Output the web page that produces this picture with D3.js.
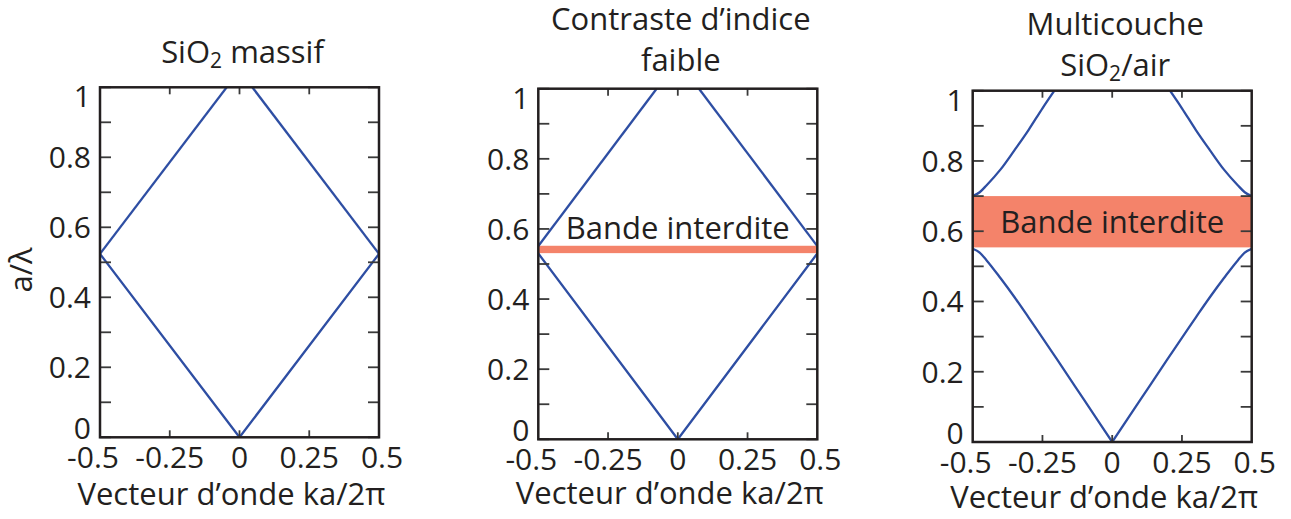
<!DOCTYPE html>
<html>
<head>
<meta charset="utf-8">
<script src="https://cdn.jsdelivr.net/npm/d3@7"></script>
<style>
  body { margin: 0; background: #fff; }
  svg text { font-family: "Open Sans", "Noto Sans", sans-serif; fill: #231f20; }
</style>
</head>
<body>
<div id="chart"></div>
<script>
// Tick values shared by the three panels
var yTicksMajor = [0, 0.2, 0.4, 0.6, 0.8, 1];
var yTicksMinor = [0.1, 0.3, 0.5, 0.7, 0.9];
var xTicks = [-0.5, -0.25, 0, 0.25, 0.5];
var yTickLabels = ["0", "0.2", "0.4", "0.6", "0.8", "1"];
var xTickLabels = ["-0.5", "-0.25", "0", "0.25", "0.5"];

// Panel 1 : SiO2 massif (folded light line)
var bulkLower = [[-0.5, 0.524], [0, 0], [0.5, 0.524]];
var bulkUpperLeft = [[-0.5, 0.524], [-0.046, 1]];
var bulkUpperRight = [[0.046, 1], [0.5, 0.524]];

// Panel 2 : contraste d'indice faible
var lowLower = [[-0.5, 0.53], [0, 0], [0.5, 0.53]];
var lowUpperLeft = [[-0.5, 0.551], [-0.076, 1]];
var lowUpperRight = [[0.076, 1], [0.5, 0.551]];
var lowGap = [0.531, 0.552];

// Panel 3 : multicouche SiO2/air (read at |k|, symmetric)
var multiK = [0, 0.1, 0.2, 0.3, 0.35, 0.4, 0.45, 0.475, 0.5];
var multiLower = [0, 0.119, 0.238, 0.355, 0.412, 0.466, 0.517, 0.539, 0.55];
var multiUpperK = [0.19, 0.25, 0.3, 0.35, 0.4, 0.45, 0.475, 0.5];
var multiUpper = [1.02, 0.95, 0.888, 0.831, 0.776, 0.731, 0.711, 0.70];
var multiGap = [0.554, 0.70];

var titles = [["SiO|2| massif"], ["Contraste d\u2019indice", "faible"], ["Multicouche", "SiO|2|/air"]];
var xTitle = "Vecteur d\u2019onde ka/2\u03c0";
var yTitle = "a/\u03bb";
var gapLabel = "Bande interdite";

var blue = "#2e4ea3", orange = "#f4836a", frameCol = "#231f20";

var svg = d3.select("#chart").append("svg")
    .attr("width", 1291)
    .attr("height", 519);

// frame boxes of the panels
var panels = [
  {x0: 100, x1: 379, y0: 87.3, y1: 437.3, titleY: [63.3], xTitleY: 505},
  {x0: 538.3, x1: 817.3, y0: 88.7, y1: 439.3, titleY: [30, 71], xTitleY: 504},
  {x0: 972.7, x1: 1251.7, y0: 90.7, y1: 442, titleY: [35, 76], xTitleY: 508}
];

function mirror(ks, vs, sign) {
  return ks.map(function(k, i) { return [sign * k, vs[i]]; })
    .sort(function(a, b) { return a[0] - b[0]; });
}

panels.forEach(function(p, pi) {
  var x = d3.scaleLinear().domain([-0.5, 0.5]).range([p.x0, p.x1]);
  var y = d3.scaleLinear().domain([0, 1]).range([p.y1, p.y0]);
  var g = svg.append("g");

  g.append("clipPath").attr("id", "clip" + pi)
    .append("rect")
    .attr("x", p.x0).attr("y", p.y0)
    .attr("width", p.x1 - p.x0).attr("height", p.y1 - p.y0);

  var plot = g.append("g").attr("clip-path", "url(#clip" + pi + ")");
  var line = d3.line().x(function(d) { return x(d[0]); }).y(function(d) { return y(d[1]); });
  var smooth = d3.line().x(function(d) { return x(d[0]); }).y(function(d) { return y(d[1]); })
      .curve(d3.curveMonotoneX);

  var bands = [];
  var gap = null;
  if (pi === 0) {
    bands = [bulkLower, bulkUpperLeft, bulkUpperRight];
  } else if (pi === 1) {
    bands = [lowLower, lowUpperLeft, lowUpperRight];
    gap = lowGap;
  } else {
    gap = multiGap;
  }

  if (gap) {
    plot.append("rect")
      .attr("x", x(-0.5)).attr("width", x(0.5) - x(-0.5))
      .attr("y", y(gap[1])).attr("height", y(gap[0]) - y(gap[1]))
      .attr("fill", orange);
  }

  bands.forEach(function(b) {
    plot.append("path").attr("d", line(b))
      .attr("fill", "none").attr("stroke", blue).attr("stroke-width", 2.3);
  });

  if (pi === 2) {
    [-1, 1].forEach(function(s) {
      plot.append("path").attr("d", smooth(mirror(multiK, multiLower, s)))
        .attr("fill", "none").attr("stroke", blue).attr("stroke-width", 2.3);
      plot.append("path").attr("d", smooth(mirror(multiUpperK, multiUpper, s)))
        .attr("fill", "none").attr("stroke", blue).attr("stroke-width", 2.3);
    });
  }

  // gap label
  if (pi === 1) {
    g.append("text").attr("x", x(0)).attr("y", y(gap[1]) - 7)
      .attr("text-anchor", "middle").style("font-size", "31px").text(gapLabel);
  } else if (pi === 2) {
    g.append("text").attr("x", x(0)).attr("y", y((gap[0] + gap[1]) / 2) + 11)
      .attr("text-anchor", "middle").style("font-size", "31px").text(gapLabel);
  }

  // ticks (inward, on all four sides)
  var tickCol = "#3a3a3a";
  yTicksMajor.concat(yTicksMinor).forEach(function(t) {
    g.append("line").attr("x1", p.x0).attr("x2", p.x0 + 11)
      .attr("y1", y(t)).attr("y2", y(t)).attr("stroke", tickCol).attr("stroke-width", 1.8);
    g.append("line").attr("x1", p.x1).attr("x2", p.x1 - 11)
      .attr("y1", y(t)).attr("y2", y(t)).attr("stroke", tickCol).attr("stroke-width", 1.8);
  });
  xTicks.slice(1, 4).forEach(function(t) {
    g.append("line").attr("x1", x(t)).attr("x2", x(t))
      .attr("y1", p.y1).attr("y2", p.y1 - 7).attr("stroke", tickCol).attr("stroke-width", 1.8);
    g.append("line").attr("x1", x(t)).attr("x2", x(t))
      .attr("y1", p.y0).attr("y2", p.y0 + 7).attr("stroke", tickCol).attr("stroke-width", 1.8);
  });

  // frame
  g.append("rect")
    .attr("x", p.x0).attr("y", p.y0)
    .attr("width", p.x1 - p.x0).attr("height", p.y1 - p.y0)
    .attr("fill", "none").attr("stroke", frameCol).attr("stroke-width", 2.5);

  // tick labels
  yTicksMajor.forEach(function(t, i) {
    var shift = t === 0 ? -9 : (t === 1 ? 9 : 0);
    g.append("text").attr("x", p.x0 - 9).attr("y", y(t) + shift)
      .attr("dy", "0.36em").attr("text-anchor", "end")
      .style("font-size", "30px").text(yTickLabels[i]);
  });
  xTicks.forEach(function(t, i) {
    var shift = i === 0 ? -7 : (i === 4 ? 3 : 0);
    g.append("text").attr("x", x(t) + shift).attr("y", p.y1 + 31)
      .attr("text-anchor", "middle").style("font-size", "30px").text(xTickLabels[i]);
  });

  // axis title
  g.append("text").attr("x", x(0) - 8).attr("y", p.xTitleY)
    .attr("text-anchor", "middle").style("font-size", "31px").text(xTitle);

  // panel title (with subscript marked by |..|)
  titles[pi].forEach(function(tl, li) {
    var t = g.append("text").attr("x", x(0) + 3).attr("y", p.titleY[li])
      .attr("text-anchor", "middle").style("font-size", "31px");
    tl.split("|").forEach(function(part, j) {
      if (j % 2 === 1) {
        t.append("tspan").attr("dy", 5).style("font-size", "21px").text(part);
      } else {
        t.append("tspan").attr("dy", j > 0 ? -5 : 0).text(part);
      }
    });
  });
});

// y axis title, only on the first panel
svg.append("text")
  .attr("transform", "translate(32,270) rotate(-90)")
  .attr("text-anchor", "middle").style("font-size", "31px").text(yTitle);
</script>
</body>
</html>
